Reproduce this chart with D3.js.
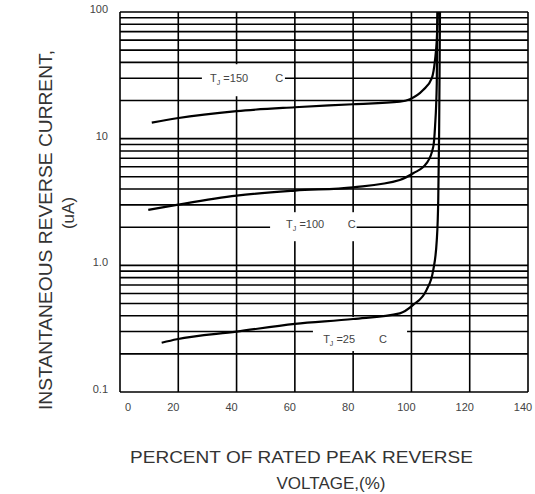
<!DOCTYPE html>
<html>
<head>
<meta charset="utf-8">
<script src="https://cdn.jsdelivr.net/npm/d3@7"></script>
<style>
  html, body { margin: 0; padding: 0; background: #fff; }
  svg { display: block; font-family: "Liberation Sans", Arial, sans-serif; }
</style>
</head>
<body>
<svg id="chart" width="535" height="494"></svg>
<script>
// ---- data ----
const xTicks = [0, 20, 40, 60, 80, 100, 120, 140];
const yTicks = [0.1, 1, 10, 100];
const yTickLabels = ["0.1", "1.0", "10", "100"];

const tj150X = [10.9, 19.5, 40, 60, 80, 96, 99.5, 104, 107, 108.1, 108.7, 109.1];
const tj150Y = [13.4, 14.5, 16.5, 17.7, 18.7, 19.6, 20.5, 24.2, 30, 41.8, 60, 100];

const tj100X = [9.7, 19.5, 40, 60, 80, 96, 100.6, 105.2, 107.5, 108.1, 108.7, 108.9];
const tj100Y = [2.74, 3.0, 3.55, 3.89, 4.13, 4.72, 5.33, 6.4, 8.65, 12.4, 27.4, 100];

const tj25X = [14.3, 19.5, 40, 60, 80, 96, 100.6, 105.2, 107.5, 108.7, 109.2, 109.5, 109.8];
const tj25Y = [0.245, 0.261, 0.30, 0.345, 0.377, 0.418, 0.487, 0.64, 0.92, 1.58, 3.28, 11.1, 100];

const labelTemps = ["150", "100", "25"];

// ---- layout ----
const svg = d3.select("#chart");
const L = 120, R = 528, T = 12, B = 392;
const x = d3.scaleLinear().domain([0, 140]).range([L, R]);
const y = d3.scaleLog().domain([0.1, 100]).range([B, T]);

// grid lines
const minor = [];
[0.1, 1, 10].forEach(d => { for (let k = 1; k <= 9; k++) minor.push(d * k); });
minor.push(100);

const grid = svg.append("g").attr("stroke", "#000").attr("stroke-width", 1.6);
grid.selectAll("line.h").data(minor).join("line")
  .attr("x1", L).attr("x2", R)
  .attr("y1", d => y(d)).attr("y2", d => y(d));
grid.selectAll("line.v").data(xTicks).join("line")
  .attr("x1", d => x(d)).attr("x2", d => x(d))
  .attr("y1", T).attr("y2", B);

// label boxes (white masks over the grid)
const labels = [
  { t: labelTemps[0], x0: 28.1, x1: 56.6, yv: 30, up: 14, down: 18, tx: 30.9, cx: 54.6, dy: 4 },
  { t: labelTemps[1], x0: 51.5, x1: 81.2, yv: 2, up: 15, down: 14, tx: 57.0, cx: 79.5, dy: 1 },
  { t: labelTemps[2], x0: 66.2, x1: 98.5, yv: 0.3, up: 14.5, down: 19.5, tx: 69.7, cx: 90.2, dy: 11 }
];
svg.selectAll("rect.lab").data(labels).join("rect")
  .attr("x", d => x(d.x0)).attr("width", d => x(d.x1) - x(d.x0))
  .attr("y", d => y(d.yv) - d.up).attr("height", d => d.up + d.down)
  .attr("fill", "#fff");

const lt = svg.selectAll("text.lab").data(labels).join("text")
  .attr("x", d => x(d.tx)).attr("y", d => y(d.yv) + d.dy)
  .attr("font-size", 11).attr("fill", "#444");
lt.append("tspan").text("T");
lt.append("tspan").attr("font-size", 7).attr("dy", 3).text("J");
lt.append("tspan").attr("dy", -3).text(d => " =" + d.t);
svg.selectAll("text.labc").data(labels).join("text")
  .attr("x", d => x(d.cx)).attr("y", d => y(d.yv) + d.dy)
  .attr("text-anchor", "middle").attr("font-size", 11).attr("fill", "#444")
  .text("C");

// curves
const line = d3.line().x(d => x(d[0])).y(d => y(d[1])).curve(d3.curveMonotoneX);
const series = [
  d3.zip(tj150X, tj150Y),
  d3.zip(tj100X, tj100Y),
  d3.zip(tj25X, tj25Y)
];
svg.selectAll("path.curve").data(series).join("path")
  .attr("d", line).attr("fill", "none").attr("stroke", "#000").attr("stroke-width", 2.2);

// tick labels
svg.selectAll("text.xt").data(xTicks).join("text")
  .attr("x", d => x(d) + (d === 0 ? 8 : -5)).attr("y", 411)
  .attr("text-anchor", "middle").attr("font-size", 11).attr("fill", "#444")
  .text(d => d);
svg.selectAll("text.yt").data(yTicks).join("text")
  .attr("x", L - 12).attr("y", d => y(d) + 1)
  .attr("text-anchor", "end").attr("font-size", 11).attr("fill", "#444")
  .text((d, i) => yTickLabels[i]);

// axis titles
svg.append("text")
  .attr("transform", "translate(52,230) rotate(-90)")
  .attr("text-anchor", "middle").attr("font-size", 18).attr("fill", "#333")
  .attr("textLength", 360).attr("lengthAdjust", "spacingAndGlyphs")
  .text("INSTANTANEOUS REVERSE CURRENT,");
svg.append("text")
  .attr("transform", "translate(74,213) rotate(-90)")
  .attr("text-anchor", "middle").attr("font-size", 17).attr("fill", "#333")
  .text("(uA)");
svg.append("text")
  .attr("x", 301.5).attr("y", 463)
  .attr("text-anchor", "middle").attr("font-size", 17).attr("fill", "#333")
  .attr("textLength", 343).attr("lengthAdjust", "spacingAndGlyphs")
  .text("PERCENT OF RATED PEAK REVERSE");
svg.append("text")
  .attr("x", 331).attr("y", 489)
  .attr("text-anchor", "middle").attr("font-size", 17).attr("fill", "#333")
  .text("VOLTAGE,(%)");
</script>
</body>
</html>
